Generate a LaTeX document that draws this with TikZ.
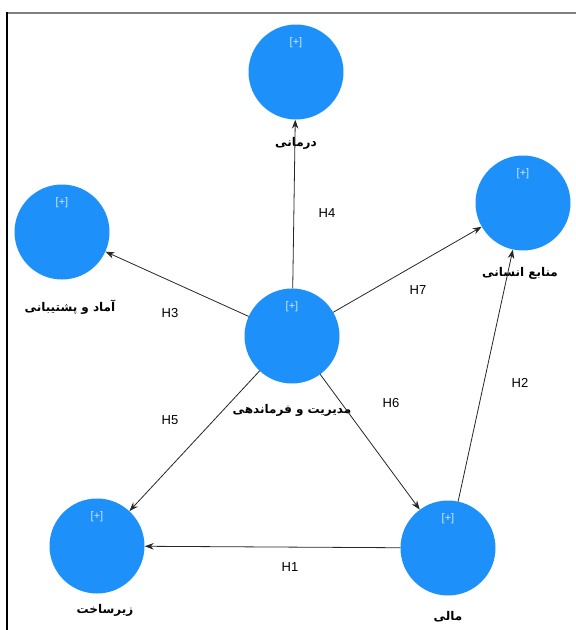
\documentclass[tikz,border=0pt]{standalone}
\usepackage{fontspec}
\usetikzlibrary{arrows.meta}
\setmainfont{Liberation Sans}
\newfontfamily\arabicfont[Script=Arabic]{DejaVu Sans}
\TeXXeTstate=1
\definecolor{nodeblue}{RGB}{30,144,250}
\begin{document}
\begin{tikzpicture}[>={Stealth[length=9pt,width=6.5pt]}, x=1pt, y=-1pt, line cap=round, line join=round,
    construct/.style={circle, fill=nodeblue, draw=none, minimum size=95pt, inner sep=0pt},
    plustag/.style={text=white!80!nodeblue, font=\fontsize{11}{12}\selectfont, inner sep=0pt},
    cname/.style={font=\arabicfont\bfseries\fontsize{12}{13}\selectfont, inner sep=1pt},
    hlabel/.style={font=\fontsize{13}{15}\selectfont, inner sep=1pt},
    link/.style={->, line width=0.8pt, black!85}]
  \useasboundingbox (0,0) rectangle (576,630);

  % Frame
  \draw[gray, line width=2pt, line cap=butt] (7,13) -- (576,13);
  \draw[line width=1.2pt, line cap=butt] (7,12) -- (7,630);

  % Constructs
  \node[construct] (dar) at (296,72) {};
  \node[construct] (man) at (523,203) {};
  \node[construct] (ama) at (62,232) {};
  \node[construct] (mod) at (292,336) {};
  \node[construct] (zir) at (97,546) {};
  \node[construct] (mal) at (448,548) {};

  \foreach \c in {dar, man, ama, mod, zir, mal}
    \node[plustag] (\c-plus) at ([yshift=-18pt]\c.north) {[+]};

  % Names
  \node[cname] (dar-name) at (296,143) {\beginR درمانی\endR};
  \node[cname] (man-name) at (520,273) {\beginR منابع انسانی\endR};
  \node[cname] (ama-name) at (70,307) {\beginR آماد و پشتیبانی\endR};
  \node[cname] (mod-name) at (292,410) {\beginR مدیریت و فرماندهی\endR};
  \node[cname] (zir-name) at (105,610) {\beginR زیرساخت\endR};
  \node[cname] (mal-name) at (448,617) {\beginR مالی\endR};

  % Paths
  \draw[link] (mod) -- (dar);
  \draw[link] (mod) -- (ama);
  \draw[link] (mod) -- (man);
  \draw[link] (mod) -- (zir);
  \draw[link] (mod) -- (mal);
  \draw[link] (mal) -- (zir);
  \draw[link] (mal) -- (man);

  % Path labels
  \node[hlabel] (h4) at (327,213) {H4};
  \node[hlabel] (h3) at (170,313) {H3};
  \node[hlabel] (h7) at (418,290) {H7};
  \node[hlabel] (h5) at (170,420) {H5};
  \node[hlabel] (h6) at (391,403) {H6};
  \node[hlabel] (h1) at (290,567) {H1};
  \node[hlabel] (h2) at (520,383) {H2};
\end{tikzpicture}
\end{document}
